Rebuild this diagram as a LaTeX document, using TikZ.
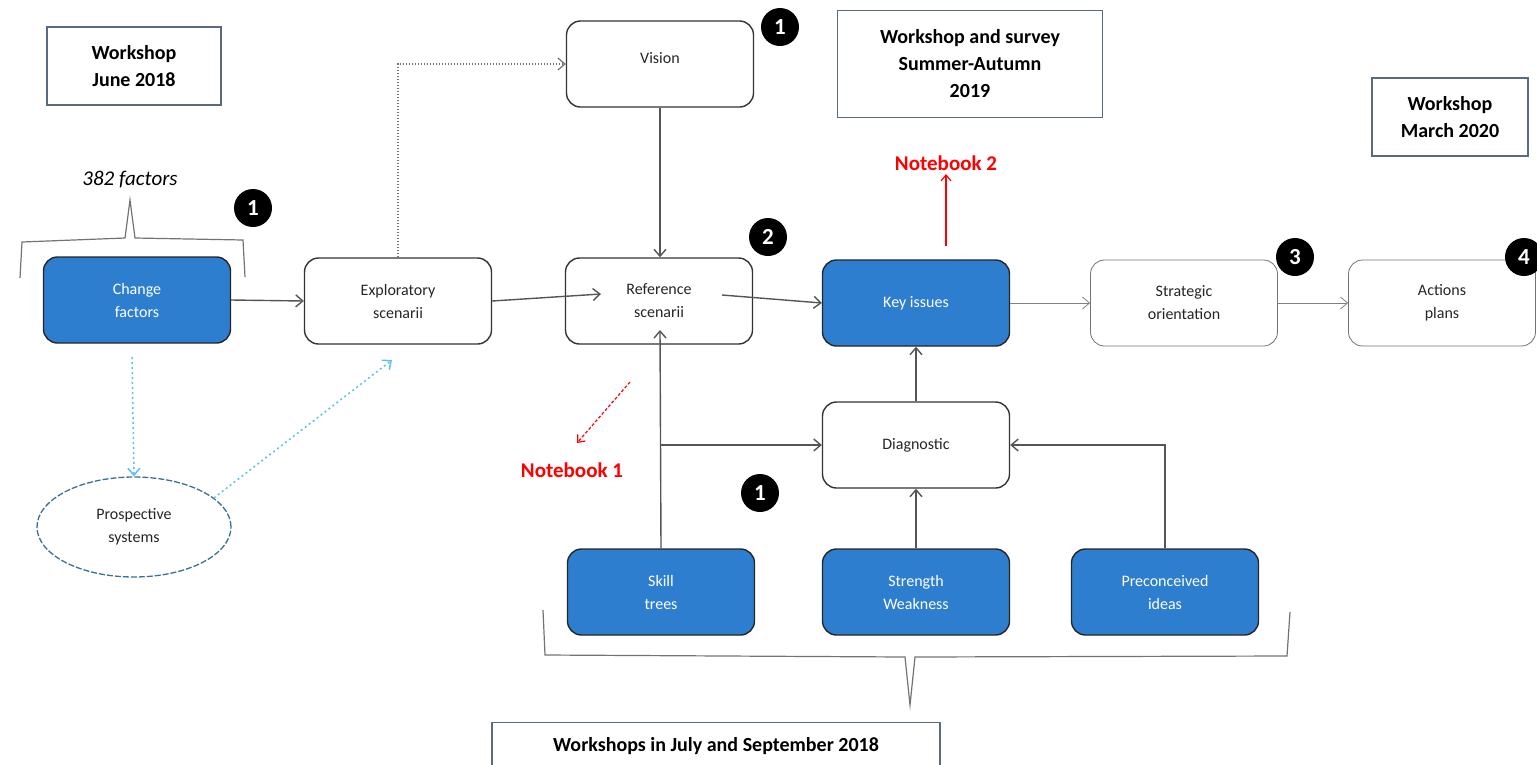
\documentclass[tikz,border=0pt]{standalone}
\usepackage{fontspec}
\setmainfont{Carlito}
\usetikzlibrary{arrows.meta,shapes.geometric,decorations.pathreplacing}
\definecolor{boxblue}{HTML}{2E7ECF}
\definecolor{frameblue}{HTML}{5A6A80}
\definecolor{ellblue}{HTML}{3A6F96}
\definecolor{dotblue}{HTML}{5BC0EE}
\definecolor{linegray}{HTML}{555555}
\tikzset{
  every node/.style={font=\fontsize{16}{23}\selectfont},
  wbox/.style={draw=black!80, line width=1.4pt, rounded corners=14pt, fill=white, minimum width=187pt, minimum height=86pt, align=center, text=black!85},
  bbox/.style={wbox, fill=boxblue, draw=black!85, text=white},
  tbox/.style={wbox, line width=0.8pt, draw=black!55},
  title/.style={draw=frameblue, line width=1.2pt, fill=white, align=center, font=\fontsize{20}{27}\selectfont\bfseries},
  badge/.style={circle, fill=black, text=white, minimum size=38pt, inner sep=0pt, font=\fontsize{23}{23}\selectfont\bfseries},
  conn/.style={draw=linegray, line width=1.4pt, -{Straight Barb[length=7pt,width=12pt]}},
  thin/.style={conn, line width=0.8pt, draw=black!50},
  dotb/.style={draw=dotblue, line width=1.5pt, dash pattern=on 2pt off 3pt, -{Straight Barb[length=7pt,width=12pt]}},
  red/.style={draw=red, line width=1.2pt, -{Straight Barb[length=6pt,width=10pt]}},
  redtxt/.style={text=red, font=\fontsize{21}{23}\selectfont\bfseries},
  brace/.style={draw=black!55, line width=1.2pt},
}
\begin{document}
\begin{tikzpicture}[x=1pt,y=-1pt]
\useasboundingbox (0,0) rectangle (1537,764);
% title boxes
\node[title, minimum width=174pt, minimum height=78pt] (wjune) at (134,66) {Workshop\\June 2018};
\node[title, minimum width=265pt, minimum height=107pt] (wsum) at (970,64) {Workshop and survey\\Summer-Autumn\\2019};
\node[title, minimum width=156pt, minimum height=78pt] (wmar) at (1450,117) {Workshop\\March 2020};
\node[title, minimum width=448pt, minimum height=46pt, anchor=north] (wjul) at (716,722) {Workshops in July and September 2018};
% main nodes
\node[bbox] (cf) at (137,300) {Change\\factors};
\node[wbox] (ex) at (398,301) {Exploratory\\scenarii};
\node[wbox] (ref) at (659,301) {Reference\\scenarii};
\node[wbox] (vis) at (660,64) {\raisebox{12pt}{Vision}};
\node[bbox] (ki) at (916,303) {Key issues};
\node[tbox] (so) at (1184,303) {Strategic\\orientation};
\node[tbox] (ap) at (1442,303) {Actions\\plans};
\node[wbox] (dg) at (916,445) {Diagnostic};
\node[bbox] (sk) at (661,592) {Skill\\trees};
\node[bbox] (sw) at (916,592) {Strength\\Weakness};
\node[bbox] (pi) at (1165,592) {Preconceived\\ideas};
\node[ellipse, draw=ellblue, line width=1.3pt, dash pattern=on 6pt off 2pt, minimum width=194pt, minimum height=100pt, align=center, text=black!85] (ps) at (134,527) {Prospective\\systems};
% badges
\node[badge] (b1a) at (253,208) {1};
\node[badge] (b1b) at (780,27) {1};
\node[badge] (b2) at (768,237) {2};
\node[badge] (b3) at (1295,257) {3};
\node[badge] (b4) at (1524,257) {4};
\node[badge] (b1c) at (760,493) {1};
% texts
\node[font=\fontsize{21}{23}\selectfont\itshape] (f382) at (130,180) {382 factors};
\node[redtxt] (nb2) at (946,163) {Notebook 2};
\node[redtxt] (nb1) at (572,470) {Notebook 1};
% braces
\coordinate (br1l) at (20,278);
\coordinate (br1r) at (245,277);
\coordinate (br1t) at (130,200);
\draw[brace] (br1l) -- (22,242) -- (125,238) -- (br1t) -- (135,238) -- (243,240) -- (br1r);
\coordinate (br2l) at (543,610);
\coordinate (br2r) at (1290,612);
\coordinate (br2t) at (910,705);
\draw[brace] (br2l) -- (545,655) -- (905,657) -- (br2t) -- (915,657) -- (1287,656) -- (br2r);
% connectors
\draw[conn] (cf.east) -- (ex.west);
\coordinate (refin) at (601,294);
\draw[conn] (ex.east) -- (refin);
\coordinate (refout) at (722,295);
\draw[conn] (refout) -- (ki.west);
\draw[thin] (ki.east) -- (so.west);
\draw[thin] (so.east) -- (ap.west);
\draw[conn] (vis.south) -- (vis.south |- ref.north);
\draw[draw=black!55, line width=1.2pt, dash pattern=on 1.5pt off 1.5pt, -{Straight Barb[length=7pt,width=12pt]}] (ex.north) -- (ex.north |- vis.west) -- (vis.west);
\coordinate (cfd) at (132,357);
\draw[dotb] (cfd) -- (ps.north);
\coordinate (exd) at (392,360);
\draw[dotb] (ps.20) -- (exd);
\coordinate (refb) at (660,330);
\draw[conn] (sk.north) -- (refb);
\coordinate (jn) at (660,445);
\draw[conn] (jn) -- (dg.west);
\draw[conn] (sw.north) -- (dg.south);
\draw[conn] (dg.north) -- (ki.south);
\draw[conn] (pi.north) -- (pi.north |- dg.east) -- (dg.east);
\coordinate (nb2s) at (946,246);
\draw[red] (nb2s) -- (nb2.south);
\coordinate (nb1s) at (630,382);
\draw[red, dash pattern=on 3pt off 2pt] (nb1s) -- (577,443);
\end{tikzpicture}
\end{document}
